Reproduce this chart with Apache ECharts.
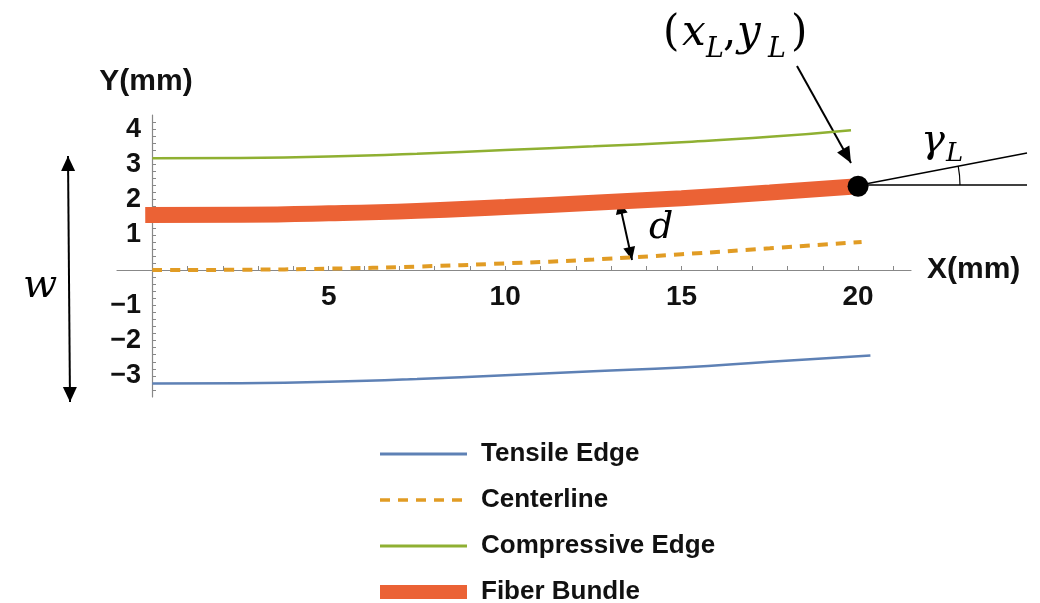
<!DOCTYPE html>
<html lang="en">
<head>
    <meta charset="UTF-8">
    <title>Fiber bundle geometry</title>
    <script src="https://cdn.jsdelivr.net/npm/echarts@6/dist/echarts.min.js"></script>
</head>
<body style="margin:0;background:#fff">
<div id="main" style="width: 1040px;height:603px;"></div>

<script>
    // values (x in mm, y in mm)
    var tensileX = [0, 2.5, 5, 7.5, 10, 12.5, 15, 17.5, 20.35];
    var tensileY = [-3.22, -3.21, -3.17, -3.09, -2.98, -2.87, -2.76, -2.6, -2.42];
    var centerX = [0, 2.5, 5, 7.5, 10, 12.5, 15, 17.5, 20.1];
    var centerY = [0, 0.01, 0.04, 0.1, 0.19, 0.3, 0.45, 0.62, 0.8];
    var compX = [0, 2.5, 5, 7.5, 10, 12.5, 15, 17.5, 19.8];
    var compY = [3.17, 3.18, 3.22, 3.3, 3.41, 3.51, 3.63, 3.78, 3.97];
    var fiberX = [-0.2, 2.5, 5, 7.5, 10, 12.5, 15, 17.5, 20];
    var fiberY = [1.56, 1.57, 1.61, 1.68, 1.79, 1.91, 2.04, 2.2, 2.38];
    var endPoint = [20, 2.38];

    var names = ['Tensile Edge', 'Centerline', 'Compressive Edge', 'Fiber Bundle'];
    var colors = ['#5E81B5', '#E19C24', '#8FB032', '#EB6235'];
    var xTickLabels = [5, 10, 15, 20];

    function pairs(xs, ys) {
        var out = [];
        for (var i = 0; i < xs.length; i++) {
            out.push([xs[i], ys[i]]);
        }
        return out;
    }

    // line with arrow heads, for the annotations
    function arrow(x1, y1, x2, y2, both, len, half) {
        var els = [{
            type: 'line',
            shape: {x1: x1, y1: y1, x2: x2, y2: y2},
            style: {stroke: '#000', lineWidth: 2}
        }];
        function head(tx, ty, fx, fy) {
            var a = Math.atan2(ty - fy, tx - fx);
            var bx = tx - len * Math.cos(a), by = ty - len * Math.sin(a);
            return {
                type: 'polygon',
                shape: {points: [[tx, ty],
                    [bx + half * Math.sin(a), by - half * Math.cos(a)],
                    [bx - half * Math.sin(a), by + half * Math.cos(a)]]},
                style: {fill: '#000'}
            };
        }
        els.push(head(x2, y2, x1, y1));
        if (both) els.push(head(x1, y1, x2, y2));
        return els;
    }

    var mathFont = '"DejaVu Serif", serif';
    var labelFont = '"Liberation Sans", Arial, sans-serif';

    function mathText(str, x, y, size, italic) {
        return {
            type: 'text', x: x, y: y,
            style: {text: str, font: (italic ? 'italic ' : '') + size + 'px ' + mathFont, fill: '#000', verticalAlign: 'top'}
        };
    }

    var graphics = []
        .concat(arrow(797, 66, 851, 163, false, 16, 7))
        .concat(arrow(619, 201, 632, 260, true, 13, 6))
        .concat(arrow(68, 156, 70, 402, true, 15, 7));

    graphics.push(
        {type: 'line', shape: {x1: 860, y1: 185, x2: 1027, y2: 185}, style: {stroke: '#000', lineWidth: 1.3}},
        {type: 'line', shape: {x1: 860, y1: 185, x2: 1027, y2: 153}, style: {stroke: '#000', lineWidth: 1.3}},
        {type: 'arc', shape: {cx: 860, cy: 185, r: 100, startAngle: -0.19, endAngle: 0, clockwise: true},
            style: {stroke: '#000', lineWidth: 1.2, fill: null}},
        mathText('(', 663, 13, 42, false),
        mathText('x', 682, 13, 42, true),
        mathText('L', 706, 36, 27, true),
        mathText(',', 723, 13, 42, false),
        mathText('y', 737, 13, 42, true),
        mathText('L', 768, 36, 27, true),
        mathText(')', 791, 13, 42, false),
        mathText('γ', 921, 122, 40, true),
        mathText('L', 946, 141, 26, true),
        mathText('d', 649, 209, 38, true),
        mathText('w', 23, 267, 40, true)
    );

    var chart = echarts.init(document.getElementById('main'));
    var series = [
        {name: names[0], data: pairs(tensileX, tensileY), width: 2.5, dash: 'solid'},
        {name: names[1], data: pairs(centerX, centerY), width: 4, dash: [10, 8]},
        {name: names[2], data: pairs(compX, compY), width: 2.5, dash: 'solid'},
        {name: names[3], data: pairs(fiberX, fiberY), width: 16, dash: 'solid'}
    ].map(function (s, i) {
        return {
            name: s.name,
            type: 'line',
            smooth: true,
            showSymbol: false,
            symbol: 'none',
            z: i === 3 ? 3 : 2,
            lineStyle: {color: colors[i], width: s.width, type: s.dash, cap: 'butt'},
            itemStyle: {color: colors[i]},
            data: s.data
        };
    });
    series.push({
        name: 'end',
        type: 'scatter',
        symbolSize: 21,
        itemStyle: {color: '#000', opacity: 1},
        z: 5,
        data: [endPoint]
    });

    var legendWidths = [3, 3.5, 3, 14];
    var option = {
        animation: false,
        grid: {left: 117, right: 129, top: 115, bottom: 206},
        legend: {
            data: names.map(function (n, i) {
                return {name: n, lineStyle: {width: legendWidths[i]}};
            }),
            orient: 'vertical',
            left: 373,
            top: 441,
            height: 200,
            padding: 0,
            itemWidth: 87,
            itemHeight: 20,
            itemGap: 20,
            itemStyle: {opacity: 0},
            textStyle: {fontSize: 26, fontWeight: 'bold', fontFamily: labelFont, color: '#111', padding: [0, 0, 0, 9]}
        },
        xAxis: {
            type: 'value',
            min: -1,
            max: 21.5,
            interval: 1,
            position: 'bottom',
            offset: -127,
            name: 'X(mm)',
            nameLocation: 'end',
            nameGap: 16,
            nameTextStyle: {fontSize: 30, fontWeight: 'bold', fontFamily: labelFont, color: '#111'},
            axisLine: {onZero: false, lineStyle: {color: '#888', width: 1.2}},
            axisTick: {inside: true, length: 4, lineStyle: {color: '#888'}},
            splitLine: {show: false},
            axisLabel: {
                margin: 13,
                fontSize: 28, fontWeight: 'bold', fontFamily: labelFont, color: '#111',
                showMinLabel: false, showMaxLabel: false,
                formatter: function (v) {
                    return xTickLabels.indexOf(Math.round(v)) >= 0 && Math.abs(v - Math.round(v)) < 1e-6 ? String(Math.round(v)) : '';
                }
            }
        },
        yAxis: {
            type: 'value',
            min: -3.6,
            max: 4.4,
            interval: 0.2,
            position: 'left',
            offset: -35,
            name: 'Y(mm)',
            nameLocation: 'end',
            nameGap: 18,
            nameTextStyle: {fontSize: 30, fontWeight: 'bold', fontFamily: labelFont, color: '#111', padding: [0, 12, 0, 0]},
            axisLine: {onZero: false, lineStyle: {color: '#888', width: 1.2}},
            axisTick: {inside: true, length: 4, lineStyle: {color: '#888'}},
            splitLine: {show: false},
            axisLabel: {
                margin: 11,
                fontSize: 27, fontWeight: 'bold', fontFamily: labelFont, color: '#111',
                showMinLabel: false, showMaxLabel: false,
                formatter: function (v) {
                    var r = Math.round(v);
                    if (Math.abs(v - r) > 1e-6 || r === 0) return '';
                    return r < 0 ? '\u2212' + Math.abs(r) : String(r);
                }
            }
        },
        series: series,
        graphic: graphics
    };
    chart.setOption(option);
</script>
</body>
</html>
